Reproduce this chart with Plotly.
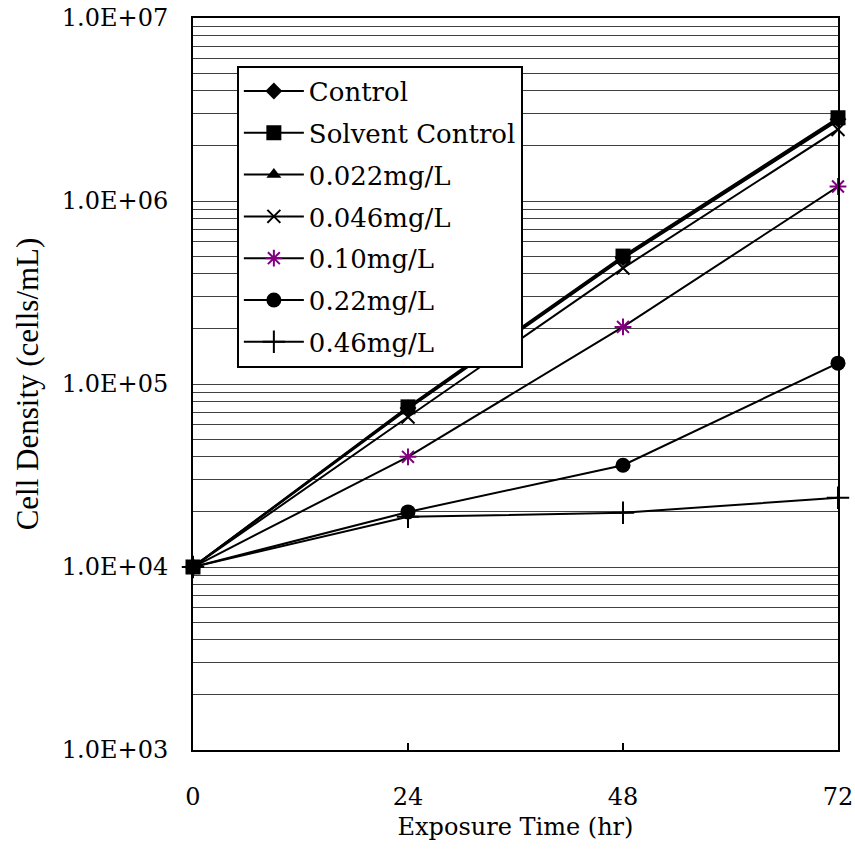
import plotly.graph_objects as go

hours = [0, 24, 48, 72]
control = [1.0e4, 7.4e4, 4.9e5, 2.8e6]
solvent_control = [1.0e4, 7.5e4, 5.0e5, 2.85e6]
c_0022 = [1.0e4, 7.3e4, 4.85e5, 2.75e6]
c_0046 = [1.0e4, 6.6e4, 4.3e5, 2.46e6]
c_010 = [1.0e4, 4.0e4, 2.05e5, 1.2e6]
c_022 = [1.0e4, 2.0e4, 3.6e4, 1.3e5]
c_046 = [1.0e4, 1.88e4, 1.98e4, 2.39e4]

decades = [1e3, 1e4, 1e5, 1e6, 1e7]
decade_labels = ["1.0E+03", "1.0E+04", "1.0E+05", "1.0E+06", "1.0E+07"]
x_ticks = [0, 24, 48, 72]

# gridline positions 1..9 x each decade
y_tickvals = []
y_ticktext = []
for d, lab in zip(decades, decade_labels):
    for k in range(1, 10):
        v = d * k
        if v > 1e7:
            break
        y_tickvals.append(v)
        y_ticktext.append(lab if k == 1 else "")

series = [
    ("Control", control, dict(symbol="diamond", size=13, color="black"), 1),
    ("0.022mg/L", c_0022, dict(symbol="triangle-up", size=13, color="black"), 3),
    ("0.046mg/L", c_0046, dict(symbol="x-thin-open", size=13, color="black",
                               line=dict(color="black", width=2)), 4),
    ("0.10mg/L", c_010, dict(symbol="asterisk-open", size=14, color="#800080",
                             line=dict(color="#800080", width=2)), 5),
    ("0.22mg/L", c_022, dict(symbol="circle", size=15, color="black"), 6),
    ("0.46mg/L", c_046, dict(symbol="cross-thin-open", size=16, color="black",
                             line=dict(color="black", width=2)), 7),
    ("Solvent Control", solvent_control, dict(symbol="square", size=15, color="black"), 2),
]

fig = go.Figure()
for name, vals, mk, rank in series:
    fig.add_trace(go.Scatter(
        x=hours, y=vals, name=name, mode="lines+markers",
        line=dict(color="black", width=2),
        marker=mk, cliponaxis=False,
        legendrank=rank, legendgroup=name,
    ))

font_main = "DejaVu Serif"
fig.update_layout(
    width=855, height=857,
    margin=dict(l=193, r=17, t=18, b=107),
    paper_bgcolor="white", plot_bgcolor="white",
    font=dict(family=font_main, size=24, color="black"),
    showlegend=True,
    legend=dict(
        x=0.068, y=0.935, xanchor="left", yanchor="top",
        bgcolor="white", bordercolor="black", borderwidth=2,
        font=dict(family=font_main, size=26, color="black"),
        traceorder="grouped", tracegroupgap=5,
        itemwidth=60,
    ),
    xaxis=dict(
        range=[0, 72], tickvals=x_ticks, ticktext=[str(v) for v in x_ticks],
        showgrid=False, zeroline=False, automargin=False,
        showline=True, linecolor="black", linewidth=2, mirror=True,
        ticks="inside", ticklen=7, tickwidth=1.5, tickcolor="black",
        ticklabelstandoff=24, ticklabeloverflow="allow",
        title=dict(text="Exposure Time (hr)", standoff=8,
                   font=dict(family=font_main, size=24)),
    ),
    yaxis=dict(
        type="log", range=[3, 7], automargin=False,
        tickvals=y_tickvals, ticktext=y_ticktext,
        showgrid=True, gridcolor="#404040", gridwidth=1,
        showline=True, linecolor="black", linewidth=2, mirror=True,
        ticks="", ticklabelstandoff=18, zeroline=False,
        ticklabeloverflow="allow",
        title=dict(text="Cell Density (cells/mL)", standoff=14,
                   font=dict(family="Liberation Serif", size=31)),
    ),
)

fig.write_html(
    "out.html",
    config={"displayModeBar": False},
    post_script="document.body.style.margin='0';document.body.style.overflow='hidden';",
)
